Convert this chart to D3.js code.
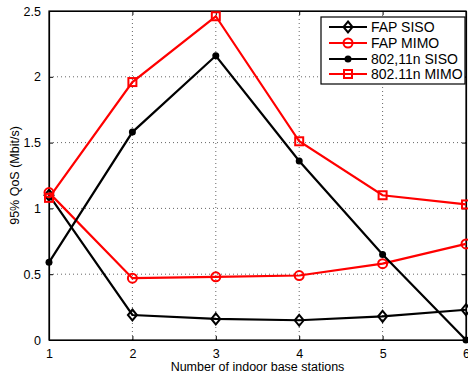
<!DOCTYPE html>
<html>
<head>
<meta charset="utf-8">
<script src="https://cdn.jsdelivr.net/npm/d3@7"></script>
<style>
  body { margin: 0; background: #fff; }
  svg text { font-family: "Liberation Sans", Arial, sans-serif; }
</style>
</head>
<body>
<div id="chart"></div>
<script>
const stations = [1, 2, 3, 4, 5, 6];
const fapSiso = [1.10, 0.19, 0.16, 0.15, 0.18, 0.23];
const fapMimo = [1.12, 0.47, 0.48, 0.49, 0.58, 0.73];
const wifiSiso = [0.59, 1.58, 2.16, 1.36, 0.65, 0.0];
const wifiMimo = [1.08, 1.96, 2.46, 1.51, 1.10, 1.03];
const yTicks = [0, 0.5, 1, 1.5, 2, 2.5];
const yTickLabels = ["0", "0.5", "1", "1.5", "2", "2.5"];
const seriesNames = ["FAP SISO", "FAP MIMO", "802,11n SISO", "802.11n MIMO"];

const width = 468, height = 378;
const margin = {top: 11, right: 2, bottom: 38, left: 49};

const series = [
  {name: seriesNames[0], values: fapSiso, color: "#000", marker: "diamond"},
  {name: seriesNames[1], values: fapMimo, color: "#ff0000", marker: "circle"},
  {name: seriesNames[2], values: wifiSiso, color: "#000", marker: "dot"},
  {name: seriesNames[3], values: wifiMimo, color: "#ff0000", marker: "square"}
];

const svg = d3.select("#chart").append("svg")
  .attr("width", width)
  .attr("height", height);

const x = d3.scaleLinear().domain([1, 6]).range([margin.left, width - margin.right]);
const y = d3.scaleLinear().domain([0, 2.5]).range([height - margin.bottom, margin.top]);

// grid
const grid = svg.append("g");
stations.slice(1, -1).forEach(s => {
  grid.append("line").attr("x1", x(s)).attr("x2", x(s))
    .attr("y1", y(0)).attr("y2", y(2.5));
});
yTicks.slice(1, -1).forEach(t => {
  grid.append("line").attr("x1", x(1)).attr("x2", x(6))
    .attr("y1", y(t)).attr("y2", y(t));
});
grid.selectAll("line")
  .attr("stroke", "#000").attr("stroke-width", 1)
  .attr("stroke-dasharray", "1,3").attr("opacity", 0.6);

// axes (ticks pointing in)
const xAxis = d3.axisBottom(x).tickValues(stations).tickFormat(d3.format("d"))
  .tickSizeInner(-4).tickSizeOuter(0).tickPadding(9);
const yAxis = d3.axisLeft(y).tickValues(yTicks).tickFormat((d, i) => yTickLabels[i])
  .tickSizeInner(-4).tickSizeOuter(0).tickPadding(8);

const gx = svg.append("g").attr("transform", "translate(0," + y(0) + ")").call(xAxis);
const gy = svg.append("g").attr("transform", "translate(" + x(1) + ",0)").call(yAxis);
svg.append("g").attr("transform", "translate(0," + y(2.5) + ")")
  .call(d3.axisTop(x).tickValues(stations).tickFormat("").tickSizeInner(-4).tickSizeOuter(0));
svg.append("g").attr("transform", "translate(" + x(6) + ",0)")
  .call(d3.axisRight(y).tickValues(yTicks).tickFormat("").tickSizeInner(-4).tickSizeOuter(0));

svg.selectAll(".domain").attr("stroke", "#000").attr("stroke-width", 1.2);
svg.selectAll(".tick line").attr("stroke", "#000");
[gx, gy].forEach(g => g.selectAll("text").attr("fill", "#000").style("font-size", "12.5px"));

svg.append("rect")
  .attr("x", x(1)).attr("y", y(2.5))
  .attr("width", x(6) - x(1)).attr("height", y(0) - y(2.5))
  .attr("fill", "none").attr("stroke", "#000").attr("stroke-width", 1.2);

// markers
function drawMarker(g, kind, cx, cy, color) {
  if (kind === "diamond") {
    g.append("path")
      .attr("d", `M${cx},${cy - 5.5}L${cx + 4.5},${cy}L${cx},${cy + 5.5}L${cx - 4.5},${cy}Z`)
      .attr("fill", "none").attr("stroke", color).attr("stroke-width", 2);
  } else if (kind === "circle") {
    g.append("circle").attr("cx", cx).attr("cy", cy).attr("r", 4.5)
      .attr("fill", "none").attr("stroke", color).attr("stroke-width", 2);
  } else if (kind === "dot") {
    g.append("circle").attr("cx", cx).attr("cy", cy).attr("r", 3.5)
      .attr("fill", color);
  } else if (kind === "square") {
    g.append("rect").attr("x", cx - 4).attr("y", cy - 4)
      .attr("width", 8).attr("height", 8)
      .attr("fill", "none").attr("stroke", color).attr("stroke-width", 2);
  }
}

const line = d3.line().x((d, i) => x(stations[i])).y(d => y(d));

const plot = svg.append("g");
series.forEach(s => {
  plot.append("path")
    .attr("d", line(s.values))
    .attr("fill", "none")
    .attr("stroke", s.color)
    .attr("stroke-width", 2.2);
  s.values.forEach((v, i) => drawMarker(plot, s.marker, x(stations[i]), y(v), s.color));
});

// labels
svg.append("text")
  .attr("x", (x(1) + x(6)) / 2).attr("y", 371)
  .attr("text-anchor", "middle")
  .style("font-size", "12.5px")
  .text("Number of indoor base stations");

svg.append("text")
  .attr("transform", "translate(19," + ((y(0) + y(2.5)) / 2) + ") rotate(-90)")
  .attr("text-anchor", "middle")
  .style("font-size", "12.5px")
  .text("95% QoS (Mbit/s)");

// legend
const legend = svg.append("g").attr("transform", "translate(321,17)");
legend.append("rect")
  .attr("width", 144).attr("height", 67)
  .attr("fill", "#fff").attr("stroke", "#000").attr("stroke-width", 1.2);
const rowY = [10, 26, 42, 57];
series.forEach((s, i) => {
  const g = legend.append("g");
  g.append("line").attr("x1", 8).attr("x2", 46)
    .attr("y1", rowY[i]).attr("y2", rowY[i])
    .attr("stroke", s.color).attr("stroke-width", 2.2);
  drawMarker(g, s.marker, 27, rowY[i], s.color);
  g.append("text").attr("x", 50).attr("y", rowY[i] + 5)
    .style("font-size", "14px")
    .text(s.name);
});
</script>
</body>
</html>
